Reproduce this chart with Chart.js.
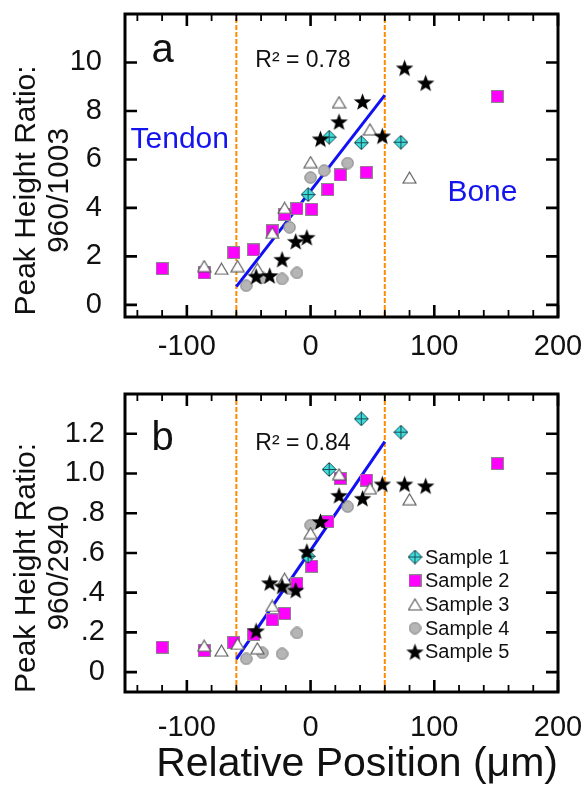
<!DOCTYPE html>
<html>
<head>
<meta charset="utf-8">
<script src="https://cdn.jsdelivr.net/npm/chart.js@4.4.1/dist/chart.umd.min.js"></script>
<style>
  html, body { margin: 0; padding: 0; background: #fff; }
  #wrap { position: relative; width: 582px; height: 792px; overflow: hidden; }
  canvas { position: absolute; left: 0; }
  #panelA { top: 0; }
  #panelB { top: 380px; }
</style>
</head>
<body>
<div id="wrap">
  <canvas id="panelA" width="582" height="370"></canvas>
  <canvas id="panelB" width="582" height="412"></canvas>
</div>
<script>
const FONT = "'Liberation Sans', Arial, Helvetica, sans-serif";

// axis ticks and labels
const X_TICKS = [-100, 0, 100, 200];
const A_TICKS = [0, 2, 4, 6, 8, 10];
const A_TICK_LABELS = ["0", "2", "4", "6", "8", "10"];
const B_TICKS = [0, 0.2, 0.4, 0.6, 0.8, 1.0, 1.2];
const B_TICK_LABELS = ["0", ".2", ".4", ".6", ".8", "1.0", "1.2"];

const SAMPLE_NAMES = ["Sample 1", "Sample 2", "Sample 3", "Sample 4", "Sample 5"];

// positions (um) for each sample, shared by both panels
const S1_X = [-2, 15, 41, 73];
const S2_X = [-120, -86, -62, -46, -31, -21, -11, 1, 14, 24, 45, 151];
const S3_X = [-86, -72, -59, -43, -31, -21, 0, 23, 48, 80];
const S4_X = [-52, -39, -23, -17, -11, 0, 11, 30];
const S5_X = [-44, -33, -23, -12, -3, 8, 23, 42, 58, 76, 93];

// panel a: 960/1003
const S1_A = [4.55, 6.92, 6.69, 6.71];
const S2_A = [1.50, 1.32, 2.16, 2.27, 3.06, 3.73, 3.97, 3.94, 4.76, 5.36, 5.47, 8.6];
const S3_A = [1.60, 1.49, 1.60, 1.49, 2.97, 4.0, 5.89, 8.36, 7.24, 5.25];
const S4_A = [0.79, 1.11, 1.07, 3.20, 1.32, 5.25, 5.54, 5.85];
const S5_A = [1.18, 1.21, 1.88, 2.62, 2.79, 6.85, 7.56, 8.39, 6.97, 9.78, 9.16];

// panel b: 960/2940
const S1_B = [0.583, 1.02, 1.275, 1.208];
const S2_B = [0.125, 0.108, 0.15, 0.19, 0.263, 0.295, 0.445, 0.533, 0.758, 0.975, 0.967, 1.05];
const S3_B = [0.133, 0.108, 0.142, 0.12, 0.333, 0.47, 0.70, 0.996, 0.925, 0.87];
const S4_B = [0.067, 0.097, 0.092, 0.42, 0.197, 0.74, 0.76, 0.833];
const S5_B = [0.208, 0.45, 0.433, 0.413, 0.608, 0.758, 0.89, 0.875, 0.947, 0.947, 0.938];

// linear fits and tendon / bone boundaries
const FIT_X = [-60, 60];
const FIT_A = [0.75, 8.65];
const FIT_B = [0.065, 1.16];
const BOUNDARY_X = [-60, 60];

// --- marker images ---
function markerCanvas(w, h, draw) {
  const c = document.createElement("canvas");
  c.width = w; c.height = h;
  draw(c.getContext("2d"), w, h);
  return c;
}

const MARKERS = {
  diamond: markerCanvas(15, 15, (g, w, h) => {
    g.beginPath();
    g.moveTo(w / 2, 0.5); g.lineTo(w - 0.5, h / 2); g.lineTo(w / 2, h - 0.5); g.lineTo(0.5, h / 2);
    g.closePath();
    g.fillStyle = "#3fdede"; g.fill();
    g.strokeStyle = "#1d4d52"; g.lineWidth = 1; g.stroke();
    g.beginPath();
    g.moveTo(w / 2, 1); g.lineTo(w / 2, h - 1);
    g.moveTo(1, h / 2); g.lineTo(w - 1, h / 2);
    g.stroke();
  }),
  square: markerCanvas(13, 13, (g, w, h) => {
    g.fillStyle = "#ff00ff"; g.fillRect(0.5, 0.5, w - 1, h - 1);
    g.strokeStyle = "#8a8a8a"; g.lineWidth = 1; g.strokeRect(0.5, 0.5, w - 1, h - 1);
  }),
  triangle: markerCanvas(15, 13, (g, w, h) => {
    g.beginPath();
    g.moveTo(w / 2, 1); g.lineTo(w - 1, h - 1); g.lineTo(1, h - 1); g.closePath();
    g.fillStyle = "#fff"; g.fill();
    g.strokeStyle = "#555"; g.lineWidth = 1.1; g.stroke();
  }),
  circle: markerCanvas(13, 13, (g, w, h) => {
    g.beginPath(); g.arc(w / 2, h / 2, w / 2 - 0.8, 0, Math.PI * 2);
    g.fillStyle = "#b5b5b5"; g.fill();
    g.strokeStyle = "#7c7c7c"; g.lineWidth = 1; g.stroke();
  }),
  star: markerCanvas(19, 19, (g, w, h) => {
    const cx = w / 2, cy = h / 2 + 0.9, ro = 9.2, ri = 3.8;
    g.beginPath();
    for (let i = 0; i < 10; i++) {
      const r = i % 2 ? ri : ro;
      const a = -Math.PI / 2 + i * Math.PI / 5;
      g.lineTo(cx + r * Math.cos(a), cy + r * Math.sin(a));
    }
    g.closePath();
    g.fillStyle = "#000"; g.fill();
  })
};
const LEGEND_MARKERS = [MARKERS.diamond, MARKERS.square, MARKERS.triangle, MARKERS.circle, MARKERS.star];

function series(xs, ys) {
  return xs.map((x, i) => ({ x: x, y: ys[i] }));
}

function buildDatasets(p) {
  const pts = (label, data, style) => ({
    label: label, data: data, pointStyle: style, pointRadius: 7, pointHoverRadius: 7, showLine: false
  });
  const edge = (x) => ({
    data: [{ x: x, y: p.range[0] }, { x: x, y: p.range[1] }],
    showLine: true, borderColor: "#ff8c00", borderWidth: 2, borderDash: [5, 2], pointRadius: 0
  });
  return [
    pts("Sample 5", series(S5_X, p.s5), MARKERS.star),
    pts("Sample 1", series(S1_X, p.s1), MARKERS.diamond),
    pts("Sample 3", series(S3_X, p.s3), MARKERS.triangle),
    pts("Sample 2", series(S2_X, p.s2), MARKERS.square),
    pts("Sample 4", series(S4_X, p.s4), MARKERS.circle),
    { label: "fit", data: series(FIT_X, p.fit), showLine: true, borderColor: "#1010f5", borderWidth: 3, pointRadius: 0 },
    edge(BOUNDARY_X[0]),
    edge(BOUNDARY_X[1])
  ];
}

// frame, inward ticks, y title, annotations, legend
function panelDecor(o) {
  return {
    id: "panelDecor",
    afterDraw(chart) {
      const { ctx, chartArea: a, scales: { x, y } } = chart;
      ctx.save();
      ctx.strokeStyle = "#000";
      // x ticks, every 20 with majors at 100
      for (let v = -140; v <= 200; v += 20) {
        const px = x.getPixelForValue(v);
        const major = v % 100 === 0;
        const len = major ? 12 : 7;
        ctx.lineWidth = major ? 2.6 : 1.8;
        ctx.beginPath();
        ctx.moveTo(px, a.bottom); ctx.lineTo(px, a.bottom - len);
        ctx.moveTo(px, a.top); ctx.lineTo(px, a.top + len);
        ctx.stroke();
      }
      ctx.lineWidth = 2.6;
      o.yTicks.forEach(v => {
        const py = y.getPixelForValue(v);
        ctx.beginPath();
        ctx.moveTo(a.left, py); ctx.lineTo(a.left + 12, py);
        ctx.moveTo(a.right, py); ctx.lineTo(a.right - 12, py);
        ctx.stroke();
      });
      ctx.lineWidth = 3;
      ctx.strokeRect(a.left, a.top, a.right - a.left, a.bottom - a.top);

      // y title, two rotated lines
      ctx.fillStyle = "#111";
      ctx.font = "30px " + FONT;
      ctx.textAlign = "center";
      ctx.textBaseline = "middle";
      const cy = (a.top + a.bottom) / 2 + 25;
      [27, 60].forEach((tx, i) => {
        ctx.save();
        ctx.translate(tx, cy);
        ctx.rotate(-Math.PI / 2);
        ctx.fillText(o.yTitle[i], 0, 0);
        ctx.restore();
      });

      // annotations
      ctx.textAlign = "left";
      ctx.textBaseline = "alphabetic";
      o.notes.forEach(n => {
        ctx.font = n.size + "px " + FONT;
        ctx.fillStyle = n.color;
        ctx.fillText(n.text, x.getPixelForValue(n.x), y.getPixelForValue(n.y));
      });

      // legend
      if (o.legend) {
        ctx.font = "20px " + FONT;
        ctx.fillStyle = "#111";
        ctx.textBaseline = "middle";
        SAMPLE_NAMES.forEach((name, i) => {
          const ly = a.top + 163 + i * 23.7;
          const m = LEGEND_MARKERS[i];
          ctx.drawImage(m, a.left + 290 - m.width / 2, ly - m.height / 2);
          ctx.fillText(name, a.left + 300, ly + 1);
        });
      }
      ctx.restore();
    }
  };
}

function xScale(height, padding, title) {
  return {
    type: "linear", min: -150, max: 200,
    grid: { display: false }, border: { display: false },
    afterBuildTicks: s => { s.ticks = X_TICKS.map(v => ({ value: v })); },
    ticks: { font: { family: FONT, size: 29 }, color: "#111", padding: padding, maxRotation: 0, autoSkip: false },
    title: title,
    afterFit: s => { s.height = height; s.paddingLeft = 0; s.paddingRight = 0; }
  };
}

function yScale(min, max, ticks, labels, padding) {
  return {
    type: "linear", min: min, max: max,
    grid: { display: false }, border: { display: false },
    afterBuildTicks: s => { s.ticks = ticks.map(v => ({ value: v })); },
    ticks: { font: { family: FONT, size: 29 }, color: "#111", padding: padding, callback: (v, i) => labels[i] },
    afterFit: s => { s.width = 125; s.paddingTop = 0; s.paddingBottom = 0; }
  };
}

const RANGE_A = [-0.5, 12];
const RANGE_B = [-0.1, 1.4];

new Chart(document.getElementById("panelA"), {
  type: "scatter",
  data: { datasets: buildDatasets({ s1: S1_A, s2: S2_A, s3: S3_A, s4: S4_A, s5: S5_A, fit: FIT_A, range: RANGE_A }) },
  options: {
    responsive: false, animation: false, events: [],
    layout: { padding: { left: 0, right: 24, top: 14, bottom: 0 } },
    plugins: { legend: { display: false }, tooltip: { enabled: false } },
    scales: {
      x: xScale(53, 5, { display: false }),
      y: yScale(RANGE_A[0], RANGE_A[1], A_TICKS, A_TICK_LABELS, 15)
    }
  },
  plugins: [panelDecor({
    yTicks: A_TICKS,
    yTitle: ["Peak Height Ratio:", "960/1003"],
    notes: [
      { text: "a", x: -128.5, y: 10.0, size: 40, color: "#111" },
      { text: "R\u00b2 = 0.78", x: -44.7, y: 9.8, size: 23, color: "#111" },
      { text: "Tendon", x: -145.5, y: 6.48, size: 30, color: "#1414ee" },
      { text: "Bone", x: 110.6, y: 4.3, size: 30, color: "#1414ee" }
    ],
    legend: false
  })]
});

new Chart(document.getElementById("panelB"), {
  type: "scatter",
  data: { datasets: buildDatasets({ s1: S1_B, s2: S2_B, s3: S3_B, s4: S4_B, s5: S5_B, fit: FIT_B, range: RANGE_B }) },
  options: {
    responsive: false, animation: false, events: [],
    layout: { padding: { left: 0, right: 24, top: 14, bottom: 0 } },
    plugins: { legend: { display: false }, tooltip: { enabled: false } },
    scales: {
      x: xScale(100, 11, {
        display: true, text: "Relative Position (\u03bcm)", align: "end", color: "#111",
        font: { family: FONT, size: 41 }, padding: { top: 0, bottom: 3 }
      }),
      y: yScale(RANGE_B[0], RANGE_B[1], B_TICKS, B_TICK_LABELS, 12)
    }
  },
  plugins: [panelDecor({
    yTicks: B_TICKS,
    yTitle: ["Peak Height Ratio:", "960/2940"],
    notes: [
      { text: "b", x: -128.5, y: 1.117, size: 40, color: "#111" },
      { text: "R\u00b2 = 0.84", x: -44.7, y: 1.117, size: 23, color: "#111" }
    ],
    legend: true
  })]
});
</script>
</body>
</html>
